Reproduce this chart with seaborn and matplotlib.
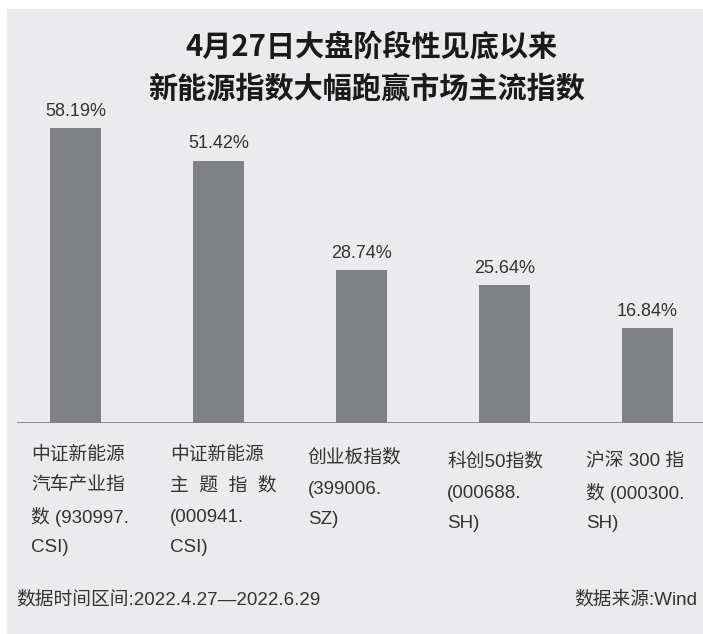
import numpy as np
import pandas as pd
import seaborn as sns
import matplotlib.pyplot as plt
from matplotlib.patches import Rectangle

# data
categories = ['中证新能源汽车产业指数', '中证新能源主题指数', '创业板指数', '科创50指数', '沪深300指数']
values = [58.19, 51.42, 28.74, 25.64, 16.84]
tick_labels = [['中证新能源', '汽车产业指', '数 (930997.', 'CSI)'],
               ['中证新能源', '主  题  指  数', '(000941.', 'CSI)'],
               ['创业板指数', '(399006.', 'SZ)'],
               ['科创50指数', '(000688.', 'SH)'],
               ['沪深 300 指', '数 (000300.', 'SH)']]
title_lines = ['4月27日大盘阶段性见底以来', '新能源指数大幅跑赢市场主流指数']
note_left = '数据时间区间:2022.4.27—2022.6.29'
note_right = '数据来源:Wind'

df = pd.DataFrame({'index': categories, 'pct': values})

W, H = 703, 634
BG = '#ebebed'
BAR = '#808184'
TXT = '#333333'
CJK = ['Noto Sans CJK SC', 'DejaVu Sans']
MIX = ['Liberation Sans', 'Noto Sans CJK SC', 'DejaVu Sans']

sns.set_style('white')
plt.rcParams['font.family'] = CJK

fig = plt.figure(figsize=(W / 100, H / 100), dpi=100, facecolor='white')
fig.patches.append(Rectangle((7 / W, 0), 1 - 7 / W, (H - 9) / H, transform=fig.transFigure,
                             facecolor=BG, edgecolor='none', zorder=-10))

# axes placed so baseline sits at y=423px, bars centred every 143px
base = -2.8
ax = fig.add_axes([17 / W, (H - 423) / H, 686 / W, 303.8 / H])
ax.patch.set_alpha(0)
sns.barplot(data=df, x='index', y='pct', color=BAR, width=0.357, saturation=1, ax=ax, zorder=2)
for p in ax.patches:
    p.set_y(base)
    p.set_height(p.get_height() - base)
    p.set_edgecolor('none')
ax.axhline(base, color='#77787b', lw=1.2, zorder=1)
ax.set_xlim(-0.409, 4.388)
ax.set_ylim(base, 60)
ax.set_xticks([])
ax.set_yticks([])
ax.set_xlabel('')
ax.set_ylabel('')
sns.despine(ax=ax, left=True, bottom=True)

for i, v in enumerate(values):
    ax.text(i, v + 3.5, f'{v:.2f}%', ha='center', va='center', fontsize=13,
            family=MIX, color=TXT)

# category labels under the baseline, one text per line
lab_x = [31, 170, 308, 447, 586]
lab_y = [455, 455, 458, 462, 462]
for x, y, lines in zip(lab_x, lab_y, tick_labels):
    for k, t in enumerate(lines):
        fig.text(x / W, 1 - (y + 31 * k) / H, t, ha='left', va='center', fontsize=13.5,
                 family=MIX, color=TXT)

# title
fig.text(371 / W, 1 - 47 / H, title_lines[0], ha='center', va='center', fontsize=21,
         weight='heavy', color='#1a1a1a')
fig.text(367 / W, 1 - 89 / H, title_lines[1], ha='center', va='center', fontsize=21,
         weight='heavy', color='#1a1a1a')

fig.text(16 / W, 1 - 600 / H, note_left, ha='left', va='center', fontsize=13.5, family=MIX, color=TXT)
fig.text(697 / W, 1 - 600 / H, note_right, ha='right', va='center', fontsize=13.5, family=MIX, color=TXT)

fig.savefig('out.png', dpi=100, facecolor=fig.get_facecolor())
